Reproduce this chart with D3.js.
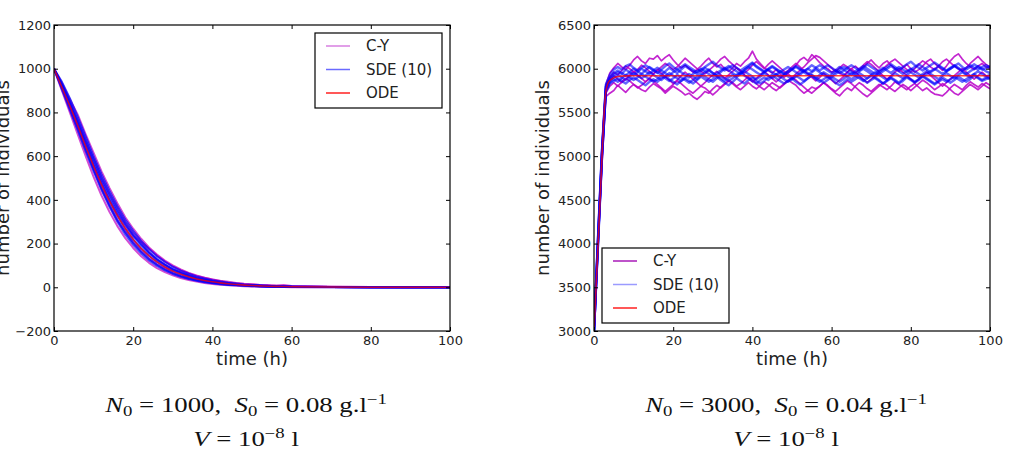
<!DOCTYPE html>
<html lang="en">
<head>
<meta charset="UTF-8">
<title>Growth trajectories</title>
<script src="https://d3js.org/d3.v7.min.js"></script>
<style>
  body { margin: 0; background: #fff; }
  svg { display: block; }
  .tick text { font-family: "DejaVu Sans", sans-serif; font-size: 13px; fill: #222; }
  .tick line { stroke: #000; }
  .lbl { font-family: "DejaVu Sans", sans-serif; font-size: 18px; fill: #222; }
  .leg { font-family: "DejaVu Sans", sans-serif; font-size: 15px; fill: #222; }
  .cap { font-family: "Liberation Serif", serif; font-size: 20px; fill: #111; white-space: pre; }
</style>
</head>
<body>
<div id="chart"></div>
<script>
// ---- data ----
const seriesNames = ["C-Y", "SDE (10)", "ODE"];
const xTicks = [0, 20, 40, 60, 80, 100];
const yTicksLeft = [-200, 0, 200, 400, 600, 800, 1000, 1200];
const yTicksRight = [3000, 3500, 4000, 4500, 5000, 5500, 6000, 6500];

// left panel: N0 = 1000, S0 = 0.08
const timesL = [0, 2, 4, 6, 8, 10, 12, 14, 16, 18, 20, 22, 24, 26, 28, 30, 32, 34, 36, 38,
                40, 42, 44, 46, 48, 50, 52, 54, 56, 58, 60, 70, 80, 90, 100];
const odeL = [1000, 915, 830, 740, 645, 555, 470, 395, 328, 270, 220, 178, 144, 116, 93, 74, 60, 48, 38, 31,
              25, 20, 16, 13, 10, 8, 6.5, 5, 4, 3.3, 2.7, 1, 0.3, 0.1, 0];
const cyL = [
  [1000, 935, 860, 790, 700, 615, 530, 455, 385, 320, 268, 222, 182, 150, 122, 100, 82, 66, 54, 44, 36, 30, 25, 20, 16, 14, 11, 9, 7, 6, 5, 2, 1, 0, 0],
  [1000, 900, 800, 700, 600, 505, 420, 345, 280, 225, 180, 142, 112, 88, 70, 55, 42, 33, 26, 20, 15, 12, 9, 7, 5, 4, 3, 2, 1, 1, 0, 0, 0, 0, 0],
  [1000, 925, 845, 745, 660, 560, 480, 400, 335, 285, 235, 205, 160, 125, 105, 80, 70, 55, 45, 38, 30, 26, 19, 16, 12, 10, 8, 7, 5, 4, 3, 1, 0, 0, 0],
  [1000, 920, 840, 760, 670, 590, 505, 430, 365, 300, 250, 210, 178, 145, 118, 96, 78, 64, 52, 44, 36, 28, 22, 18, 15, 13, 11, 9, 8, 10, 6, 3, 1, 0, 0],
  [1000, 910, 815, 725, 625, 540, 450, 375, 305, 255, 205, 165, 132, 105, 85, 66, 52, 42, 33, 27, 22, 17, 14, 11, 9, 7, 6, 4, 3, 2, 2, 1, 0, 0, 0]
];
const sdeL = [
  [1000, 930, 850, 765, 675, 585, 500, 425, 355, 295, 242, 198, 160, 130, 104, 84, 67, 54, 43, 35, 28, 22, 18, 14, 11, 9, 7, 6, 5, 4, 3, 1, 0, 0, 0],
  [1000, 915, 825, 730, 635, 540, 455, 378, 310, 252, 204, 164, 130, 104, 82, 65, 51, 40, 32, 25, 20, 16, 12, 10, 8, 6, 5, 4, 3, 2, 2, 1, 0, 0, 0],
  [1000, 940, 865, 780, 690, 600, 518, 442, 372, 310, 258, 212, 174, 142, 116, 94, 76, 62, 50, 40, 32, 26, 21, 17, 13, 11, 9, 7, 5, 4, 3, 1, 0, 0, 0],
  [1000, 905, 812, 718, 622, 530, 445, 368, 300, 242, 194, 155, 123, 98, 77, 61, 48, 38, 30, 23, 18, 14, 11, 9, 7, 5, 4, 3, 2, 2, 1, 0, 0, 0, 0],
  [1000, 925, 842, 752, 660, 572, 488, 412, 345, 285, 234, 192, 156, 126, 102, 82, 66, 53, 42, 34, 27, 21, 17, 13, 11, 8, 7, 5, 4, 3, 2, 1, 0, 0, 0],
  [1000, 920, 835, 742, 648, 558, 472, 396, 328, 268, 218, 178, 144, 116, 93, 74, 59, 47, 37, 29, 23, 18, 14, 11, 9, 7, 5, 4, 3, 3, 2, 1, 0, 0, 0]
];

// right panel: N0 = 3000, S0 = 0.04
const timesR = [0, 1, 2, 3, 4, 5, 6, 7, 8, 9, 10,
  11, 12, 13, 14, 15, 16, 17, 18, 19, 20, 21, 22, 23, 24, 25, 26, 27, 28, 29, 30,
  31, 32, 33, 34, 35, 36, 37, 38, 39, 40, 41, 42, 43, 44, 45, 46, 47, 48, 49, 50,
  51, 52, 53, 54, 55, 56, 57, 58, 59, 60, 61, 62, 63, 64, 65, 66, 67, 68, 69, 70,
  71, 72, 73, 74, 75, 76, 77, 78, 79, 80, 81, 82, 83, 84, 85, 86, 87, 88, 89, 90,
  91, 92, 93, 94, 95, 96, 97, 98, 99, 100];
const odeTimesR = [0, 0.5, 1, 1.5, 2, 2.5, 3, 3.5, 4, 5, 6, 8, 10, 100];
const odeR = [3000, 3480, 3970, 4470, 4980, 5450, 5740, 5830, 5865, 5895, 5910, 5918, 5920, 5920];
const cyR = [
  [3000, 4050, 5080, 5820, 5950, 6010, 6060, 6020, 5990, 6040, 6100,
   6140, 6090, 6060, 6120, 6110, 6150, 6090, 6130, 6160, 6100,
   6050, 6010, 6040, 6000, 5960, 5990, 6030, 6080, 6120, 6060,
   6020, 6050, 6000, 5970, 6010, 6060, 6030, 6080, 6120, 6200,
   6110, 6060, 6010, 5980, 5950, 5990, 5940, 5900, 5950, 5990,
   6040, 6100, 6130, 6090, 6160, 6120, 6070, 6030, 6000, 5960,
   5990, 5950, 5920, 5960, 6000, 6030, 5990, 6020, 6060, 6100,
   6050, 6010, 6060, 6090, 6040, 6000, 5970, 6010, 6050, 6000,
   5960, 5990, 6030, 6080, 6110, 6060, 6020, 5980, 6030, 6090,
   6140, 6170, 6110, 6060, 6020, 5990, 6030, 6060, 6020, 6000],
  [3000, 3950, 4900, 5680, 5720, 5750, 5810, 5770, 5730, 5780, 5820,
   5790, 5760, 5740, 5790, 5830, 5800, 5770, 5720, 5760, 5800,
   5770, 5740, 5700, 5720, 5680, 5650, 5690, 5740, 5720, 5770,
   5810, 5780, 5820, 5860, 5830, 5790, 5760, 5800, 5840, 5800,
   5770, 5810, 5850, 5820, 5780, 5750, 5790, 5830, 5870, 5840,
   5810, 5760, 5720, 5750, 5790, 5770, 5800, 5840, 5800, 5760,
   5720, 5690, 5740, 5780, 5750, 5800, 5840, 5810, 5770, 5740,
   5780, 5820, 5790, 5760, 5800, 5850, 5820, 5790, 5760, 5800,
   5830, 5790, 5750, 5780, 5740, 5710, 5700, 5690, 5730, 5780,
   5820, 5790, 5760, 5810, 5850, 5820, 5790, 5830, 5800, 5770],
  [3000, 4020, 5020, 5780, 5900, 5960, 5930, 5980, 6030, 6000, 5960,
   5990, 6040, 6010, 5970, 5940, 5980, 6020, 6060, 6030, 5990,
   6020, 6070, 6120, 6080, 6040, 6000, 5970, 5940, 5980, 6020,
   6060, 6110, 6140, 6090, 6050, 6010, 5980, 5950, 5990, 6040,
   6080, 6040, 6000, 6050, 6090, 6050, 6010, 5970, 5940, 5900,
   5940, 5980, 6020, 6070, 6110, 6150, 6130, 6090, 6050, 6010,
   5970, 6010, 6050, 6020, 5980, 5950, 5990, 6040, 6080, 6050,
   6010, 5970, 6000, 6040, 6080, 6110, 6070, 6030, 5990, 5960,
   6000, 6050, 6090, 6060, 6020, 5990, 6030, 6080, 6110, 6070,
   6030, 6000, 5970, 6010, 6060, 6100, 6140, 6090, 6050, 6020],
  [3000, 3980, 4960, 5720, 5800, 5840, 5800, 5850, 5890, 5860, 5820,
   5780, 5810, 5850, 5890, 5860, 5820, 5780, 5740, 5780, 5820,
   5860, 5830, 5790, 5750, 5720, 5760, 5800, 5780, 5740, 5700,
   5740, 5790, 5830, 5870, 5840, 5800, 5830, 5870, 5910, 5870,
   5830, 5790, 5760, 5800, 5840, 5810, 5780, 5820, 5860, 5900,
   5870, 5830, 5790, 5750, 5720, 5760, 5800, 5840, 5810, 5770,
   5740, 5780, 5820, 5860, 5830, 5790, 5750, 5710, 5680, 5720,
   5760, 5800, 5840, 5810, 5770, 5740, 5780, 5820, 5790, 5750,
   5790, 5830, 5870, 5840, 5800, 5760, 5790, 5830, 5800, 5760,
   5720, 5700, 5740, 5780, 5820, 5790, 5760, 5800, 5840, 5810],
  [3000, 4000, 5010, 5760, 5870, 5920, 5880, 5840, 5880, 5930, 5970,
   5930, 5890, 5850, 5890, 5940, 5990, 5950, 5910, 5870, 5830,
   5870, 5920, 5960, 5920, 5880, 5840, 5800, 5840, 5890, 5930,
   5970, 5930, 5890, 5930, 5970, 6010, 5970, 5930, 5890, 5850,
   5890, 5930, 5970, 5930, 5890, 5850, 5890, 5940, 5980, 6020,
   6060, 6020, 5980, 5940, 5900, 5860, 5900, 5950, 5910, 5870,
   5830, 5870, 5910, 5960, 6000, 5960, 5920, 5880, 5840, 5880,
   5920, 5960, 5920, 5880, 5920, 5960, 6000, 5960, 5920, 5880,
   5840, 5880, 5920, 5960, 5920, 5880, 5840, 5800, 5840, 5880,
   5920, 5960, 6000, 5960, 5920, 5880, 5920, 5960, 5920, 5890]
];
const sdeR = [
  [3000, 4030, 5040, 5790, 5880, 5930, 5960, 5940, 5990, 5960, 5930,
   5960, 6000, 5970, 5940, 5980, 6010, 5980, 5950, 5920, 5960,
   5990, 5960, 5930, 5900, 5940, 5970, 6000, 5970, 5940, 5910,
   5950, 5980, 6010, 5980, 5950, 5920, 5950, 5990, 6020, 5990,
   5960, 5930, 5960, 5990, 5960, 5930, 5900, 5930, 5960, 5990,
   6020, 5990, 5960, 5930, 5960, 5990, 5960, 5930, 5900, 5930,
   5960, 5990, 6020, 6000, 5970, 5940, 5970, 6000, 5970, 5940,
   5910, 5940, 5970, 6000, 6030, 6000, 5970, 5940, 5970, 6000,
   5970, 5940, 5910, 5940, 5970, 6000, 5970, 5940, 5970, 6000,
   6030, 6000, 5970, 5940, 5970, 6000, 6030, 6000, 5970, 5950],
  [3000, 3990, 4990, 5740, 5830, 5860, 5890, 5860, 5830, 5870, 5900,
   5870, 5840, 5810, 5850, 5880, 5850, 5890, 5920, 5880, 5850,
   5820, 5860, 5890, 5860, 5830, 5870, 5910, 5880, 5850, 5880,
   5910, 5870, 5840, 5810, 5850, 5890, 5860, 5830, 5870, 5900,
   5860, 5830, 5860, 5900, 5930, 5890, 5860, 5830, 5860, 5890,
   5850, 5820, 5850, 5890, 5920, 5880, 5850, 5880, 5910, 5880,
   5840, 5810, 5840, 5880, 5850, 5880, 5910, 5870, 5840, 5870,
   5900, 5870, 5830, 5860, 5890, 5860, 5830, 5860, 5900, 5870,
   5840, 5870, 5910, 5880, 5850, 5820, 5850, 5880, 5850, 5880,
   5910, 5880, 5850, 5880, 5910, 5940, 5900, 5870, 5900, 5880],
  [3000, 4060, 5060, 5820, 5930, 5990, 6020, 5990, 6030, 6050, 6010,
   5980, 6010, 6040, 6010, 5980, 5950, 5990, 6030, 6060, 6020,
   5990, 6020, 6050, 6020, 5990, 5960, 5990, 6020, 6050, 6080,
   6040, 6010, 5980, 6010, 6040, 6010, 5980, 6010, 6040, 6070,
   6030, 6000, 5970, 6000, 6030, 6000, 5970, 5940, 5970, 6000,
   6030, 6000, 5970, 6000, 6040, 6010, 5980, 6010, 6040, 6010,
   5980, 5950, 5980, 6010, 6040, 6010, 5980, 6010, 6050, 6020,
   5990, 5960, 5990, 6020, 6050, 6020, 5990, 6020, 6050, 6080,
   6040, 6010, 5980, 6010, 6040, 6070, 6040, 6010, 5980, 6010,
   6040, 6010, 5980, 6010, 6040, 6010, 5990, 6020, 6040, 6010],
  [3000, 4010, 5000, 5770, 5860, 5900, 5930, 5900, 5870, 5910, 5950,
   5920, 5890, 5920, 5960, 5930, 5900, 5870, 5910, 5950, 5920,
   5890, 5860, 5900, 5940, 5910, 5880, 5920, 5960, 5990, 5950,
   5920, 5890, 5860, 5900, 5930, 5900, 5940, 5970, 5940, 5910,
   5880, 5910, 5950, 5920, 5890, 5930, 5970, 5940, 5910, 5880,
   5910, 5950, 5980, 5950, 5920, 5890, 5930, 5960, 5930, 5900,
   5940, 5970, 5940, 5910, 5880, 5910, 5950, 5920, 5890, 5930,
   5960, 5930, 5900, 5870, 5910, 5950, 5920, 5890, 5930, 5960,
   5930, 5900, 5940, 5970, 5940, 5910, 5880, 5920, 5950, 5920,
   5890, 5930, 5960, 5930, 5900, 5940, 5970, 5940, 5910, 5930],
  [3000, 4040, 5030, 5800, 5900, 5950, 5980, 5950, 5920, 5960, 6000,
   5970, 5940, 5980, 6020, 5990, 5960, 5930, 5970, 6010, 5980,
   5950, 5990, 6030, 6000, 5970, 5940, 5970, 6010, 5980, 5950,
   5920, 5960, 6000, 6030, 6000, 5970, 5940, 5980, 6020, 6060,
   6020, 5990, 5960, 5990, 6020, 5990, 5960, 5990, 6020, 5990,
   5960, 5930, 5970, 6000, 5970, 6010, 6040, 6010, 5980, 5950,
   5980, 6020, 5990, 5960, 5930, 5970, 6000, 6030, 6000, 5970,
   5940, 5980, 6010, 5980, 5950, 5990, 6020, 5990, 5960, 5990,
   6020, 6050, 6020, 5990, 5960, 5990, 6030, 6000, 5970, 6000,
   6030, 6060, 6020, 5990, 6020, 6050, 6020, 5990, 6010, 6030],
  [3000, 3970, 4970, 5750, 5840, 5880, 5850, 5890, 5930, 5900, 5870,
   5900, 5940, 5910, 5880, 5850, 5880, 5920, 5890, 5860, 5890,
   5930, 5900, 5870, 5840, 5870, 5910, 5940, 5910, 5880, 5850,
   5890, 5920, 5890, 5860, 5890, 5930, 5960, 5920, 5890, 5860,
   5830, 5870, 5900, 5870, 5910, 5940, 5910, 5880, 5850, 5880,
   5920, 5890, 5860, 5890, 5930, 5900, 5870, 5840, 5870, 5910,
   5880, 5850, 5880, 5920, 5950, 5920, 5890, 5860, 5890, 5920,
   5890, 5860, 5830, 5870, 5900, 5870, 5840, 5880, 5910, 5880,
   5850, 5880, 5920, 5890, 5860, 5830, 5860, 5900, 5870, 5840,
   5870, 5910, 5880, 5850, 5880, 5920, 5890, 5860, 5880, 5900]
];

// caption parameters
const capN0 = [1000, 3000];
const capS0 = ["0.08", "0.04"];
const capVexp = ["−8", "−8"];

// ---- drawing ----
const width = 1027, height = 459;
const svg = d3.select("#chart").append("svg")
  .attr("width", width).attr("height", height);

const panels = [
  { left: 54, right: 450, yDomain: [-200, 1200], yTicks: yTicksLeft,
    times: timesL, cy: cyL, sde: sdeL, odeT: timesL, ode: odeL,
    cyColor: "#c000c0", cyOp: 0.7, cyW: 2, sdeColor: "#0000ff", sdeOp: 0.7, sdeW: 2,
    legCy: "#d77fe0", legSde: "#6a6aff",
    legend: { x: 315, y: 33 } },
  { left: 594, right: 990, yDomain: [3000, 6500], yTicks: yTicksRight,
    times: timesR, cy: cyR, sde: sdeR, odeT: odeTimesR, ode: odeR,
    cyColor: "#b800c8", cyOp: 0.85, cyW: 1.7, sdeColor: "#0000ff", sdeOp: 0.6, sdeW: 2.4,
    legCy: "#a81ab8", legSde: "#9b9bff",
    legend: { x: 602, y: 248 } }
];
const plotTop = 25, plotBottom = 331;

panels.forEach((p, k) => {
  const x = d3.scaleLinear().domain([0, 100]).range([p.left, p.right]);
  const y = d3.scaleLinear().domain(p.yDomain).range([plotBottom, plotTop]);
  const g = svg.append("g");

  g.append("clipPath").attr("id", "clip" + k)
    .append("rect").attr("x", p.left).attr("y", plotTop)
    .attr("width", p.right - p.left).attr("height", plotBottom - plotTop);

  const plot = g.append("g").attr("clip-path", `url(#clip${k})`);
  const lineFor = ts => d3.line().x((d, i) => x(ts[i])).y(d => y(d));

  p.cy.forEach(s => plot.append("path").attr("d", lineFor(p.times)(s))
    .attr("fill", "none").attr("stroke", p.cyColor).attr("stroke-opacity", p.cyOp)
    .attr("stroke-width", p.cyW).attr("stroke-linejoin", "round"));
  p.sde.forEach(s => plot.append("path").attr("d", lineFor(p.times)(s))
    .attr("fill", "none").attr("stroke", p.sdeColor).attr("stroke-opacity", p.sdeOp)
    .attr("stroke-width", p.sdeW).attr("stroke-linejoin", "round"));
  plot.append("path")
    .attr("d", lineFor(p.odeT).curve(d3.curveMonotoneX)(p.ode))
    .attr("fill", "none").attr("stroke", "#ff0000").attr("stroke-opacity", 0.75)
    .attr("stroke-width", 1.6);

  // axes, ticks inward on all sides
  const fmt = d => d < 0 ? "−" + Math.abs(d) : String(d);
  g.append("g").attr("transform", `translate(0,${plotBottom})`)
    .call(d3.axisBottom(x).tickValues(xTicks).tickSize(-4).tickPadding(5).tickFormat(fmt));
  g.append("g").attr("transform", `translate(0,${plotTop})`)
    .call(d3.axisTop(x).tickValues(xTicks).tickSize(-4).tickFormat(""));
  g.append("g").attr("transform", `translate(${p.left},0)`)
    .call(d3.axisLeft(y).tickValues(p.yTicks).tickSize(-4).tickPadding(3).tickFormat(fmt));
  g.append("g").attr("transform", `translate(${p.right},0)`)
    .call(d3.axisRight(y).tickValues(p.yTicks).tickSize(-4).tickFormat(""));
  g.selectAll(".domain").remove();
  g.append("rect").attr("x", p.left).attr("y", plotTop)
    .attr("width", p.right - p.left).attr("height", plotBottom - plotTop)
    .attr("fill", "none").attr("stroke", "#000").attr("stroke-width", 1.2);

  // axis labels
  const cx = (p.left + p.right) / 2;
  g.append("text").attr("class", "lbl").attr("x", cx).attr("y", 365)
    .attr("text-anchor", "middle").text("time (h)");
  g.append("text").attr("class", "lbl")
    .attr("transform", `translate(${p.left - 45},${(plotTop + plotBottom) / 2}) rotate(-90)`)
    .attr("text-anchor", "middle").text("number of individuals");

  // legend
  const L = g.append("g").attr("transform", `translate(${p.legend.x},${p.legend.y})`);
  L.append("rect").attr("width", 127).attr("height", 75)
    .attr("fill", "#fff").attr("stroke", "#000").attr("stroke-width", 1.2);
  const legColors = [p.legCy, p.legSde, "#ff2020"];
  seriesNames.forEach((name, i) => {
    const ry = 13 + i * 23.5;
    L.append("line").attr("x1", 11).attr("x2", 35).attr("y1", ry).attr("y2", ry)
      .attr("stroke", legColors[i]).attr("stroke-width", 1.5);
    L.append("text").attr("class", "leg").attr("x", 51).attr("y", ry)
      .attr("dy", "0.36em").text(name);
  });

  // caption
  const cap = g.append("g").attr("transform", `translate(${cx - 6},0) scale(1.34,1)`);
  const t1 = cap.append("text").attr("class", "cap").attr("y", 412).attr("text-anchor", "middle");
  t1.append("tspan").attr("font-style", "italic").text("N");
  t1.append("tspan").attr("font-size", 14).attr("dy", 4).text("0");
  t1.append("tspan").attr("dy", -4).text(` = ${capN0[k]},  `);
  t1.append("tspan").attr("font-style", "italic").text("S");
  t1.append("tspan").attr("font-size", 14).attr("dy", 4).text("0");
  t1.append("tspan").attr("dy", -4).text(` = ${capS0[k]} g.l`);
  t1.append("tspan").attr("font-size", 14).attr("dy", -8).text("−1");
  const t2 = cap.append("text").attr("class", "cap").attr("y", 446).attr("text-anchor", "middle");
  t2.append("tspan").attr("font-style", "italic").text("V");
  t2.append("tspan").text(" = 10");
  t2.append("tspan").attr("font-size", 14).attr("dy", -8).text(capVexp[k]);
  t2.append("tspan").attr("dy", 8).text(" l");
});
</script>
</body>
</html>
